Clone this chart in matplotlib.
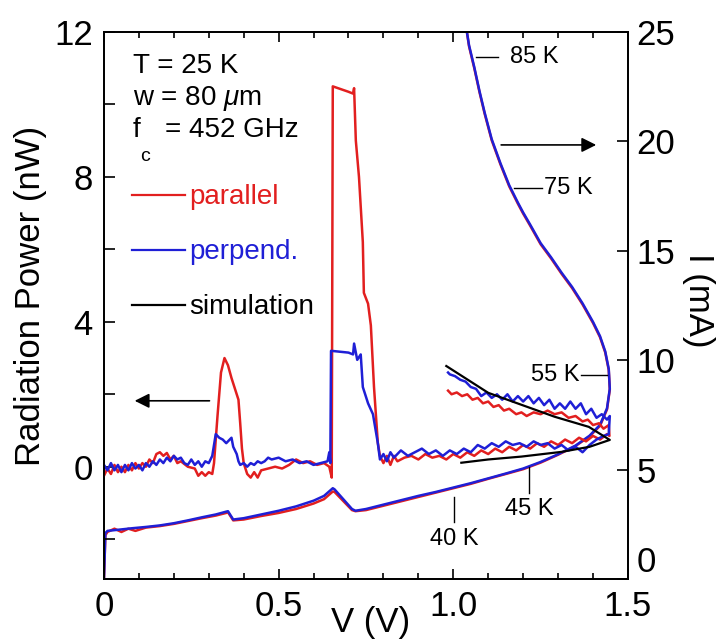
import matplotlib
matplotlib.use("Agg")
import matplotlib.pyplot as plt

plt.rcParams['font.family'] = ['Liberation Sans', 'DejaVu Sans']
plt.rcParams['mathtext.fontset'] = 'custom'
plt.rcParams['mathtext.rm'] = 'Liberation Sans'
plt.rcParams['mathtext.it'] = 'Liberation Sans:italic'

RED = '#e21f1f'
BLUE = '#1f1fd6'
LW = 1.8

# I-V curve (right axis), perpendicular measurement
iv_blue_v = [0.000, 0.002, 0.004, 0.010, 0.04, 0.08, 0.12, 0.16, 0.20, 0.24, 0.28, 0.32,
             0.35, 0.355, 0.37, 0.40, 0.45, 0.50, 0.55, 0.60, 0.63, 0.655, 0.66, 0.71,
             0.72, 0.75, 0.80, 0.85, 0.90, 0.95, 1.00, 1.05, 1.10, 1.15, 1.20, 1.25,
             1.30, 1.35, 1.39, 1.42, 1.44, 1.448, 1.445, 1.435, 1.42, 1.40, 1.37, 1.34,
             1.31, 1.28, 1.25, 1.22, 1.20, 1.185, 1.16, 1.135, 1.11, 1.09, 1.075, 1.06,
             1.045, 1.037]
iv_blue_i = [0.0, 1.0, 2.1, 2.2, 2.25, 2.32, 2.38, 2.45, 2.55, 2.68, 2.82, 2.95,
             3.08, 3.1, 2.72, 2.78, 2.95, 3.12, 3.32, 3.58, 3.8, 4.15, 4.1, 3.2,
             3.12, 3.2, 3.4, 3.6, 3.8, 3.98, 4.18, 4.38, 4.6, 4.82, 5.05, 5.35,
             5.7, 6.1, 6.55, 7.05, 7.8, 8.7, 9.6, 10.4, 11.1, 11.75, 12.6, 13.35,
             14.0, 14.7, 15.35, 16.2, 16.75, 17.2, 18.0, 19.0, 20.1, 21.3, 22.3, 23.4,
             24.4, 25.2]

# I-V curve (right axis), parallel measurement
iv_red_v = [0.000, 0.002, 0.004, 0.010, 0.03, 0.05, 0.07, 0.09, 0.12, 0.16, 0.20, 0.24,
            0.28, 0.32, 0.35, 0.355, 0.37, 0.40, 0.45, 0.50, 0.55, 0.60, 0.63, 0.655,
            0.66, 0.71, 0.72, 0.75, 0.80, 0.85, 0.90, 0.95, 1.00, 1.05, 1.10, 1.15,
            1.20, 1.25, 1.30, 1.35, 1.39, 1.42, 1.44, 1.448, 1.445, 1.435, 1.42, 1.40,
            1.37, 1.34, 1.31, 1.28, 1.25, 1.22, 1.20, 1.185, 1.16, 1.135, 1.11, 1.09,
            1.075, 1.06, 1.045, 1.037]
iv_red_i = [0.0, 1.0, 2.0, 2.15, 2.3, 2.15, 2.3, 2.2, 2.35, 2.42, 2.52, 2.65,
            2.78, 2.9, 3.02, 3.05, 2.68, 2.72, 2.88, 3.02, 3.2, 3.45, 3.65, 4.0,
            3.98, 3.15, 3.1, 3.15, 3.35, 3.55, 3.75, 3.95, 4.15, 4.35, 4.58, 4.8,
            5.02, 5.32, 5.68, 6.08, 6.52, 7.0, 7.75, 8.65, 9.55, 10.35, 11.05, 11.7,
            12.55, 13.3, 13.95, 14.65, 15.3, 16.15, 16.7, 17.15, 17.95, 18.95, 20.05, 21.25,
            22.25, 23.35, 24.35, 25.2]

# radiation power (left axis), parallel
p_red_v = [0.000, 0.01, 0.02, 0.03, 0.04, 0.05, 0.06, 0.07, 0.08, 0.09, 0.10, 0.11,
           0.12, 0.13, 0.14, 0.15, 0.16, 0.17, 0.18, 0.19, 0.20, 0.21, 0.22, 0.24,
           0.26, 0.27, 0.28, 0.29, 0.30, 0.31, 0.315, 0.325, 0.335, 0.345, 0.355, 0.365,
           0.375, 0.385, 0.39, 0.395, 0.40, 0.41, 0.42, 0.43, 0.44, 0.45, 0.47, 0.49,
           0.51, 0.53, 0.55, 0.57, 0.59, 0.61, 0.63, 0.645, 0.652, 0.655, 0.70, 0.713,
           0.716, 0.721, 0.73, 0.741, 0.744, 0.756, 0.764, 0.773, 0.784, 0.79, 0.80, 0.81,
           0.82, 0.83, 0.84, 0.86, 0.88, 0.90, 0.92, 0.94, 0.96, 0.98, 1.00, 1.02,
           1.04, 1.06, 1.08, 1.10, 1.12, 1.14, 1.16, 1.18, 1.20, 1.22, 1.24, 1.26,
           1.28, 1.30, 1.32, 1.34, 1.36, 1.38, 1.40, 1.42, 1.44, 1.447, 1.445, 1.43,
           1.417, 1.40, 1.385, 1.37, 1.35, 1.33, 1.31, 1.29, 1.27, 1.25, 1.23, 1.21,
           1.195, 1.18, 1.16, 1.145, 1.13, 1.115, 1.10, 1.085, 1.07, 1.055, 1.04, 1.025,
           1.01, 0.995, 0.985]
p_red_p = [-0.25, -0.05, -0.2, 0.05, -0.15, 0.0, -0.15, 0.05, -0.1, 0.1, -0.05, 0.1,
           0.0, 0.2, 0.1, 0.35, 0.4, 0.3, 0.38, 0.2, 0.3, 0.1, 0.15, 0.0,
           -0.05, -0.25, -0.15, -0.25, -0.15, -0.2, 0.1, 1.4, 2.6, 3.0, 2.8, 2.45,
           2.15, 1.85, 1.2, 0.5, 0.1, -0.2, -0.3, -0.15, -0.3, -0.1, -0.05, 0.0,
           -0.05, 0.05, 0.2, 0.1, 0.15, 0.05, 0.1, 0.0, -0.3, 10.5, 10.35, 10.3,
           10.45, 9.0, 8.0, 6.2, 4.8, 4.5, 3.9, 2.2, 0.65, 0.3, 0.1, 0.3,
           0.05, 0.3, 0.15, 0.25, 0.3, 0.2, 0.35, 0.25, 0.3, 0.2, 0.35, 0.25,
           0.4, 0.3, 0.45, 0.35, 0.5, 0.4, 0.55, 0.45, 0.6, 0.5, 0.65, 0.55,
           0.7, 0.6, 0.75, 0.65, 0.8, 0.7, 0.85, 0.75, 0.9, 0.85, 1.15, 1.05,
           1.2, 1.15, 1.3, 1.25, 1.4, 1.35, 1.5, 1.45, 1.55, 1.45, 1.5, 1.4,
           1.5, 1.45, 1.6, 1.55, 1.7, 1.65, 1.8, 1.75, 1.9, 1.85, 2.0, 1.95,
           2.05, 2.0, 2.1]

# radiation power (left axis), perpendicular
p_blue_v = [0.000, 0.01, 0.02, 0.03, 0.04, 0.05, 0.06, 0.07, 0.08, 0.09, 0.10, 0.11,
            0.12, 0.13, 0.14, 0.15, 0.16, 0.17, 0.18, 0.19, 0.20, 0.21, 0.22, 0.23,
            0.24, 0.25, 0.26, 0.27, 0.28, 0.29, 0.30, 0.31, 0.315, 0.32, 0.33, 0.34,
            0.35, 0.355, 0.365, 0.37, 0.38, 0.385, 0.39, 0.40, 0.41, 0.42, 0.43, 0.44,
            0.45, 0.46, 0.47, 0.48, 0.50, 0.52, 0.54, 0.56, 0.58, 0.60, 0.62, 0.64,
            0.645, 0.648, 0.65, 0.70, 0.713, 0.716, 0.725, 0.735, 0.741, 0.756, 0.77, 0.784,
            0.79, 0.80, 0.81, 0.82, 0.83, 0.85, 0.87, 0.89, 0.91, 0.93, 0.95, 0.97,
            0.99, 1.01, 1.03, 1.05, 1.07, 1.09, 1.11, 1.13, 1.15, 1.17, 1.19, 1.21,
            1.23, 1.25, 1.27, 1.29, 1.31, 1.33, 1.35, 1.37, 1.39, 1.41, 1.43, 1.445,
            1.448, 1.44, 1.425, 1.41, 1.395, 1.38, 1.365, 1.35, 1.335, 1.32, 1.305, 1.29,
            1.275, 1.26, 1.245, 1.23, 1.215, 1.20, 1.185, 1.17, 1.155, 1.14, 1.125, 1.11,
            1.095, 1.08, 1.065, 1.05, 1.035, 1.02, 1.005, 0.99, 0.985]
p_blue_p = [0.05, -0.1, 0.1, -0.1, 0.05, -0.15, 0.05, -0.1, 0.1, -0.05, 0.05, -0.1,
            0.1, 0.0, 0.15, 0.05, 0.2, 0.1, 0.25, 0.15, 0.3, 0.2, 0.25, 0.1,
            0.05, 0.2, 0.05, 0.15, 0.0, 0.15, 0.1, 0.3, 0.6, 0.9, 0.8, 0.75,
            0.65, 0.7, 0.8, 0.55, 0.35, 0.15, 0.05, 0.1, 0.0, 0.1, 0.05, 0.15,
            0.1, 0.15, 0.25, 0.2, 0.25, 0.15, 0.2, 0.1, 0.15, 0.05, 0.1, 0.15,
            0.4, 0.1, 3.2, 3.15, 3.1, 3.4, 2.95, 3.1, 2.2, 1.75, 1.45, 0.65,
            0.2, 0.35, 0.15, 0.4, 0.25, 0.45, 0.3, 0.4, 0.5, 0.35, 0.45, 0.3,
            0.45, 0.35, 0.5, 0.4, 0.6, 0.5, 0.65, 0.55, 0.7, 0.6, 0.65, 0.55,
            0.7, 0.6, 0.65, 0.5, 0.6, 0.45, 0.55, 0.4, 0.6, 0.75, 0.85, 0.9,
            1.4, 1.3, 1.45, 1.35, 1.6, 1.45, 1.75, 1.6, 1.8, 1.6, 1.75, 1.6,
            1.85, 1.7, 1.9, 1.75, 1.95, 1.8, 1.95, 1.8, 2.0, 1.85, 2.0, 1.9,
            2.05, 1.95, 2.15, 2.2, 2.35, 2.4, 2.5, 2.55, 2.6]

# simulation (left axis)
sim_v = [1.023, 1.10, 1.195, 1.31, 1.39, 1.448, 1.388, 1.29, 1.195, 1.10, 0.98]
sim_p = [0.11, 0.2, 0.28, 0.41, 0.55, 0.74, 1.1, 1.38, 1.71, 2.04, 2.78]

fig = plt.figure(figsize=(7.18, 6.43), dpi=100)
ax = fig.add_axes([0.1448, 0.0995, 0.7298, 0.8507])
ax2 = ax.twinx()

ax2.plot(iv_red_v, iv_red_i, color=RED, lw=LW)
ax2.plot(iv_blue_v, iv_blue_i, color=BLUE, lw=LW)

ax.plot(p_red_v, p_red_p, color=RED, lw=LW)
ax.plot(p_blue_v, p_blue_p, color=BLUE, lw=LW)
ax.plot(sim_v, sim_p, color='black', lw=1.6)
ax.set_zorder(ax2.get_zorder() + 1)
ax.patch.set_visible(False)

ax.set_xlim(0, 1.5)
ax.set_ylim(-3.1, 12)
ax2.set_ylim(0, 25)

ax.set_xticks([0, 0.5, 1.0, 1.5])
ax.set_xticklabels(['0', '0.5', '1.0', '1.5'])
ax.set_xticks([0.1, 0.2, 0.3, 0.4, 0.6, 0.7, 0.8, 0.9, 1.1, 1.2, 1.3, 1.4], minor=True)
ax.set_yticks([0, 4, 8, 12])
ax.set_yticks([-2, 2, 6, 10], minor=True)
ax2.set_yticks([0, 5, 10, 15, 20, 25])

ax.tick_params(axis='x', which='major', direction='in', length=7, width=1.2,
               labelsize=25, pad=8, top=True)
ax.tick_params(axis='x', which='minor', direction='in', length=4, width=1.2, top=True)
ax.tick_params(axis='y', which='both', direction='in', length=8, width=1.2,
               labelsize=25, pad=8, right=False)
ax2.tick_params(axis='y', direction='in', length=8, width=1.2, labelsize=25, pad=6)
for a in (ax, ax2):
    for s in a.spines.values():
        s.set_linewidth(1.3)
# right "0" sits a little higher so it clears the "1.5" below it
ax2.get_yticklabels()[0].set_va('bottom')

ax.text(0.508, -0.079, 'V (V)', transform=ax.transAxes, ha='center', va='center', fontsize=25)
ax.text(-0.141, 0.517, 'Radiation Power (nW)', transform=ax.transAxes, ha='center',
        va='center', rotation=90, fontsize=25)
ax.text(1.134, 0.51, 'I (mA)', transform=ax.transAxes, ha='center', va='center',
        rotation=-90, fontsize=25)

# parameter block
ax.text(0.083, 10.87, 'T = 25 K', fontsize=20, va='baseline')
ax.text(0.083, 9.99, r'w = 80 $\mathit{\mu}$m', fontsize=20, va='baseline')
ax.text(0.083, 9.10, 'f', fontsize=20, va='baseline')
ax.text(0.118, 8.55, 'c', fontsize=14, va='center', ha='center')
ax.text(0.175, 9.10, '= 452 GHz', fontsize=20, va='baseline')

# legend
for yy, col, lab in [(7.50, RED, 'parallel'), (5.99, BLUE, 'perpend.'), (4.47, 'black', 'simulation')]:
    ax.plot([0.080, 0.233], [yy, yy], color=col, lw=1.6)
    ax.text(0.243, yy - 0.05, lab, color=col, fontsize=20, va='center')

# arrows
ax.annotate('', xy=(0.08, 1.82), xytext=(0.31, 1.82),
            arrowprops=dict(arrowstyle='-|>', color='black', lw=1.2, mutation_scale=22))
ax2.annotate('', xy=(1.417, 19.84), xytext=(1.129, 19.84),
             arrowprops=dict(arrowstyle='-|>', color='black', lw=1.2, mutation_scale=22))

# temperature markers
ax2.plot([1.066, 1.129], [23.86, 23.86], color='black', lw=1)
ax2.text(1.161, 23.86, '85 K', fontsize=17, va='center')
ax2.plot([1.175, 1.253], [17.87, 17.87], color='black', lw=1)
ax2.text(1.259, 17.87, '75 K', fontsize=17, va='center')
ax2.plot([1.365, 1.44], [9.32, 9.32], color='black', lw=1)
ax2.text(1.36, 9.32, '55 K', fontsize=17, va='center', ha='right')
ax2.plot([1.218, 1.218], [5.12, 3.93], color='black', lw=1)
ax2.text(1.218, 3.2, '45 K', fontsize=17, va='center', ha='center')
ax2.plot([1.003, 1.003], [3.75, 2.6], color='black', lw=1)
ax2.text(1.003, 1.85, '40 K', fontsize=17, va='center', ha='center')

fig.savefig('out.png', dpi=100)
